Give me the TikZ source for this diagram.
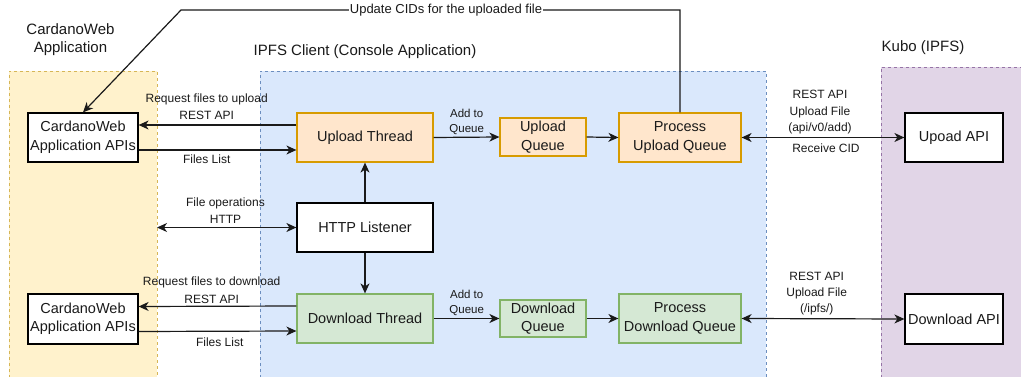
\documentclass[tikz,border=0pt]{standalone}
\usepackage{fontspec}
\setmainfont{Liberation Sans}
\usetikzlibrary{arrows.meta}
\definecolor{ylfill}{HTML}{FFF2CC}\definecolor{yldraw}{HTML}{D6B656}
\definecolor{blfill}{HTML}{DAE8FC}\definecolor{bldraw}{HTML}{6C8EBF}
\definecolor{pufill}{HTML}{E1D5E7}\definecolor{pudraw}{HTML}{9673A6}
\definecolor{orfill}{HTML}{FFE6CC}\definecolor{ordraw}{HTML}{D79B00}
\definecolor{grfill}{HTML}{D5E8D4}\definecolor{grdraw}{HTML}{82B366}
\definecolor{txt}{HTML}{1A1A1A}
\begin{document}
\begin{tikzpicture}[x=1pt,y=-1pt,
  region/.style={line width=0.8pt, dash pattern=on 3pt off 3pt},
  basebox/.style={line width=1.2pt, inner sep=0pt, align=center, text=txt,
    font=\fontsize{14.5}{18.5}\selectfont},
  whbox/.style={basebox, draw=black, fill=white},
  orbox/.style={basebox, draw=ordraw, fill=orfill},
  grbox/.style={basebox, draw=grdraw, fill=grfill},
  lbl/.style={align=center, inner sep=0pt, text=txt, font=\fontsize{12}{17}\selectfont},
  smlbl/.style={align=center, inner sep=0pt, text=txt, font=\fontsize{11.5}{15}\selectfont},
  title/.style={align=center, inner sep=0pt, text=txt, font=\fontsize{15}{18}\selectfont},
  arr/.style={-{Stealth[length=10pt,width=9pt,inset=3pt]}, line width=1.2pt, draw=txt},
  biarr/.style={{Stealth[length=10pt,width=9pt,inset=3pt]}-{Stealth[length=10pt,width=9pt,inset=3pt]}, line width=1.2pt, draw=txt},
]
\clip (0,0) rectangle (1021,377);
\fill[white] (0,0) rectangle (1021,377);
% regions
\fill[ylfill] (9,71) rectangle (157,390);
\draw[region, draw=yldraw] (9,390) -- (9,71) -- (157,71) -- (157,390);
\fill[blfill] (260,71) rectangle (766,390);
\draw[region, draw=bldraw] (260,390) -- (260,71) -- (766,71) -- (766,390);
\fill[pufill] (881,67) rectangle (1030,390);
\draw[region, draw=pudraw] (881,390) -- (881,67) -- (1030,67);
% titles
\node[title] (t1) at (70.5,40) {CardanoWeb\\Application};
\node[title] (t2) at (365,52) {IPFS Client (Console Application)};
\node[title] (t3) at (923,48) {Kubo (IPFS)};
% boxes
\node[whbox, minimum width=110pt, minimum height=49pt] (cw1) at (83,137.5) {CardanoWeb\\Application APIs};
\node[orbox, minimum width=136pt, minimum height=49pt] (up) at (365,137.5) {Upload Thread};
\node[orbox, minimum width=86pt, minimum height=38pt] (uq) at (543,137) {Upload\\Queue};
\node[orbox, minimum width=122pt, minimum height=49pt] (puq) at (680,137.5) {Process\\Upload Queue};
\node[whbox, minimum width=98pt, minimum height=49pt] (uapi) at (954,137.5) {Upoad API};
\node[whbox, minimum width=136pt, minimum height=49pt] (http) at (365,227.5) {HTTP Listener};
\node[whbox, minimum width=110pt, minimum height=50pt] (cw2) at (83,319) {CardanoWeb\\Application APIs};
\node[grbox, minimum width=136pt, minimum height=49pt] (dt) at (365,318.5) {Download Thread};
\node[grbox, minimum width=86pt, minimum height=37pt] (dq) at (543,318.5) {Download\\Queue};
\node[grbox, minimum width=122pt, minimum height=49pt] (pdq) at (680,318.5) {Process\\Download Queue};
\node[whbox, minimum width=98pt, minimum height=50pt] (dapi) at (954,319) {Download API};
% upload row connectors
\draw[arr] ([yshift=12.5pt]up.west) -- ([yshift=12.5pt]cw1.east);
\draw[arr] ([yshift=-12.5pt]cw1.east) -- ([yshift=-12.5pt]up.west);
\draw[arr] (up.east) -- (uq.west);
\draw[arr] (uq.east) -- (puq.west);
\draw[biarr] (puq.east) -- (uapi.west);
% update CIDs
\coordinate (c1) at (680,10);
\coordinate (c2) at (181,10);
\draw[arr] (puq.north) -- (c1) -- (c2) -- (cw1.north);
\node[lbl, fill=white, inner xsep=1pt, font=\fontsize{13}{15}\selectfont] (lcid) at (446,10) {Update CIDs for the uploaded file};
% http
\coordinate (fo) at (157,227.5);
\draw[biarr] (fo) -- (http.west);
\draw[arr] (http.north) -- (up.south);
\draw[arr] (http.south) -- (dt.north);
% download row connectors
\draw[arr] ([yshift=12.5pt]dt.west) -- ([yshift=12.5pt]cw2.east);
\draw[arr] ([yshift=-12.5pt]cw2.east) -- ([yshift=-12.5pt]dt.west);
\draw[arr] (dt.east) -- (dq.west);
\draw[arr] (dq.east) -- (pdq.west);
\draw[biarr] (pdq.east) -- (dapi.west);
% labels
\node[lbl] (l1) at (206.7,106.5) {Request files to upload\\REST API};
\node[lbl] (l2) at (206.7,159) {Files List};
\node[smlbl] (l3) at (466.7,121.5) {Add to\\Queue};
\node[lbl, font=\fontsize{12}{16.5}\selectfont] (l4) at (820,112.5) {REST API\\Upload File\\(api/v0/add)};
\node[lbl] (l5) at (826,148) {Receive CID};
\node[lbl] (l6) at (225.5,210.5) {File operations\\HTTP};
\node[lbl, font=\fontsize{12}{18}\selectfont] (l7) at (211.7,290) {Request files to download\\REST API};
\node[lbl] (l8) at (219.7,342) {Files List};
\node[smlbl] (l9) at (466.7,303) {Add to\\Queue};
\node[lbl, font=\fontsize{12}{16}\selectfont] (l10) at (816.7,294) {REST API\\Upload File\\(/ipfs/)};
\end{tikzpicture}
\end{document}
